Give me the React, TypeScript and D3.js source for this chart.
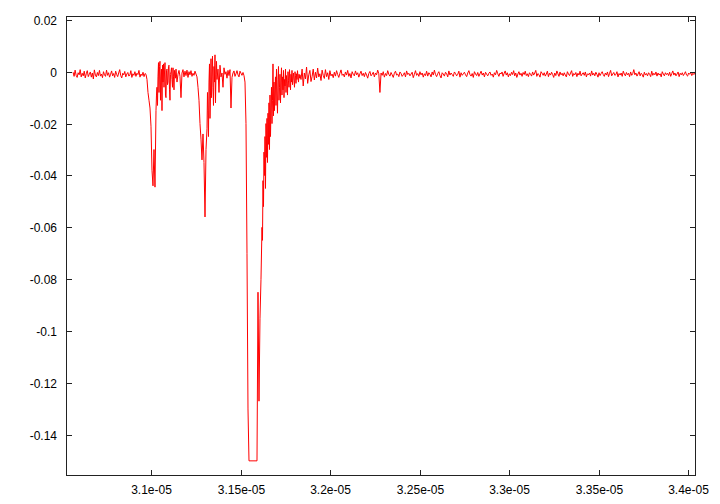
import React from "react";
import * as d3 from "d3";

// sample times are in units of 1e-5 s, sample values in units of 1e-4
const leadStart = 3.0562;
const leadEnd = 3.0964;
const leadValues = [
  -2, -18, 6, -14, -22, -4, -12, 8, -20, -6, -16, 2, -24, -8, 4, -19, -10, -1, -21, -5,
  -28, 7, -13, -20, -3, -15, 5, -17, -9, -23, 0, -12, -18, 6, -14, -4, -21, -10, 3, -16,
  -7, -22, 2, -11, -19, -5, 8, -15, -24, -6, -12, 1, -20, -9, -3, -17, -13, 4, -22, -8,
  -14, 0, -18, -6, -11, 5, -21, -9, -15, -2, -19, -7,
];

const firstDipStart = 3.09693;
const firstDipEnd = 3.10251;
const firstDipValues = [-10, -30, -80, -110, -140, -210, -380, -440, -300, -445, -150];

const firstRecoveryStart = 3.10279;
const firstRecoveryEnd = 3.11369;
const firstRecoveryValues = [
  -90, -60, -130, -20, 35, -80, 20, 40, -110, -20, 10, -150, 25, -40, 30, -60, -5, 35, -90, -100,
  5, 10, -50, -40, 20, 25, -70, -110, -10, 0, 15, -30, -60, 15, -20, -70, 5, -5, -25, 10,
];

const firstSettleStart = 3.11425;
const firstSettleEnd = 3.12542;
const firstSettleValues = [
  -40, -10, 5, -18, -100, -5, 8, -20, 2, -15, 6, -22, 0, -12, 4, -18, -6, -14, 2, -9, -20,
];

const secondDipStart = 3.12598;
const secondDipEnd = 3.13101;
const secondDipValues = [-60, -110, -200, -260, -340, -240, -350, -560, -300, -220];

const secondRecoveryStart = 3.13128;
const secondRecoveryEnd = 3.13659;
const secondRecoveryValues = [
  -80, -150, -250, -40, 30, -180, -90, 50, -100, -20, 60, -60, -130, 20, -40, 65, -120, -10, 40, -30,
];

const secondSettleStart = 3.13715;
const secondSettleEnd = 3.15279;
const secondSettleValues = [
  10, -80, 25, -20, -5, -60, 15, -10, 0, -25, 5, -15, 8, -140, -22, -5, 3, -18, -8, 4,
  -12, -20, 2, -6, -14, -3, -15, -40, -200,
];

const mainDipStart = 3.15335;
const mainDipEnd = 3.16173;
const mainDipValues = [
  -700, -1300, -1500, -1500, -1500, -1500, -1500, -1500, -1500, -1500, -1500, -850, -1270,
  -950, -800, -600,
];

const mainRecoveryStart = 3.16201;
const mainRecoveryEnd = 3.18296;
const mainRecoveryValues = [
  -650, -420, -520, -310, -400, -250, -450, -200, -330, -180, -350, -160, -280, -120, -300, -90, -250, -140, -60, -200,
  -110, 30, -170, -40, -150, -70, -20, -130, 10, -90, -160, -30, 20, -110, -60, -10, -120, -40, 15, -90,
  -20, -70, 5, -100, -30, -55, 10, -80, -15, -45, -90, 0, -35, -60, 8, -25, -70, -10, -40, 5,
  -50, -20, -5, -35, -60, 0, -15, -45, -8, -30, 4, -20, -40, -10, -25, -12,
];

const tailAStart = 3.18352;
const tailAEnd = 3.29469;
const tailAValues = [
  -30, 10, -55, -5, -28, 18, -45, -12, 5, -38, -18, 10, -32, -2, -24, 14, -20, -8, -34, 6,
  -14, -26, 8, -19, -4, -30, 4, -16, -9, -23,
  -2, -17, 4, -11, -22, -6, 7, -14, -9, -20, -1, -13, 5, -18, -7, -24, 0, -10, -16, 3,
  -12, -4, -21, -8, 2, -15, -6, -19, -3, -13, -25, -7, 1, -16, -10, -2, -20, -5, -12, 6,
  -8, -80, -5, -14, 0, -21, -7, -15, 4, -10, -17, -3, -12, -22, -6, 2, -13, -9, -19, -1,
  -7, -18, -12, -4, -20, 3, -11, -6, -16, -9, -2, -23, -10, 4, -14, -7, -18, 0, -12, -5,
  -21, -8, -15, 2, -17, -4, -10, -20, -1, -13, 6, -11, -19, -7, 0, -15, -24, -4, -9, -17,
  -2, -8, -20, 3, -13, -5, -11, -18, -1, -7, -16, -10, 2, -21, -4, -14, -8, -2, -12, -19,
  -5, 4, -11, -17, -7, -22, 0, -9, -15, -3, -18, -8, 2, -13, -5, -20, -2, -10, -16, -6,
  -1, -14, -9, -21, -4, -12, 5, -8, -18, -5,
];

const tailBStart = 3.29525;
const tailBEnd = 3.40419;
const tailBValues = [
  -9, -1, -18, -6, 3, -13, -4, -20, -8, -15, -2, -11, 4, -16, -5, -22, -9, 0, -13, -6,
  -18, -3, -11, 2, -15, -8, -19, -4, -10, -17, -1, -13, -5, 5, -18, -7, -11, -21, 0, -6,
  -14, -4, -17, -9, 2, -19, -6, -13, -2, -11, -22, -5, -15, 3, -8, -18, -1, -12, -6, -16,
  -4, -13, -20, 0, -9, -15, -5, 4, -18, -7, -12, -3, -19, -6, -13, 2, -16, -9, -4, -14,
  -1, -20, -8, -12, -5, -17, 3, -13, -6, -16, -2, -10, -21, -4, -15, -7, 0, -11, -18, -5,
  -13, -1, -19, -6, 5, -16, -9, -3, -14, -11, 0, -20, -7, -13, -5, -18, 2, -9, -16, -3,
  -12, -6, -19, -1, -14, -7, 8, -12, -5, -17, -9, 0, -16, -6, -11, -21, -2, -13, -7, -16,
  -4, -10, -19, 2, -14, -6, -12, -1, -17, -5, -13, -8, -20, 0, -9, -16, -4, -11, -6, -15,
  -2, -18, -7, 3, -13, -5, -16, -9, -1, -19, -6, -12, -4, -15, -8, 0, -13, -17, -5, -10,
  -3, -15, -6, -11, -1, -12,
];

const xTicks = [3.1e-5, 3.15e-5, 3.2e-5, 3.25e-5, 3.3e-5, 3.35e-5, 3.4e-5];
const xTickLabels = ["3.1e-05", "3.15e-05", "3.2e-05", "3.25e-05", "3.3e-05", "3.35e-05", "3.4e-05"];
const yTicks = [0.02, 0, -0.02, -0.04, -0.06, -0.08, -0.1, -0.12, -0.14];
const yTickLabels = ["0.02", "0", "-0.02", "-0.04", "-0.06", "-0.08", "-0.1", "-0.12", "-0.14"];

const segments = [
  { start: leadStart, end: leadEnd, values: leadValues },
  { start: firstDipStart, end: firstDipEnd, values: firstDipValues },
  { start: firstRecoveryStart, end: firstRecoveryEnd, values: firstRecoveryValues },
  { start: firstSettleStart, end: firstSettleEnd, values: firstSettleValues },
  { start: secondDipStart, end: secondDipEnd, values: secondDipValues },
  { start: secondRecoveryStart, end: secondRecoveryEnd, values: secondRecoveryValues },
  { start: secondSettleStart, end: secondSettleEnd, values: secondSettleValues },
  { start: mainDipStart, end: mainDipEnd, values: mainDipValues },
  { start: mainRecoveryStart, end: mainRecoveryEnd, values: mainRecoveryValues },
  { start: tailAStart, end: tailAEnd, values: tailAValues },
  { start: tailBStart, end: tailBEnd, values: tailBValues },
];

const width = 720;
const height = 504;
const left = 66;
const right = 696;
const top = 16;
const bottom = 476;
const tickLen = 6;

export default function App() {
  const x = d3.scaleLinear().domain([3.05224e-5, 3.40419e-5]).range([left, right]);
  const y = d3.scaleLinear().domain([-0.15584, 0.02147]).range([bottom, top]);

  // spread each segment's samples evenly between its start and end time
  const points: [number, number][] = segments.flatMap((s) =>
    s.values.map((v, i) => [
      (s.start + ((s.end - s.start) * i) / (s.values.length - 1)) * 1e-5,
      v * 1e-4,
    ] as [number, number])
  );

  const line = d3
    .line<[number, number]>()
    .x((d) => x(d[0]))
    .y((d) => y(d[1]));

  const axisColor = "#222";
  const font = { fontFamily: "'Liberation Sans', Arial, sans-serif", fontSize: 12 };

  return (
    <svg
      width={width}
      height={height}
      style={{ position: "absolute", left: 0, top: 0, background: "#fff" }}
    >
      <defs>
        <clipPath id="plot">
          <rect x={left} y={top} width={right - left} height={bottom - top} />
        </clipPath>
      </defs>

      <path
        d={line(points) ?? ""}
        fill="none"
        stroke="#ff0000"
        strokeWidth={1}
        strokeLinejoin="round"
        clipPath="url(#plot)"
      />

      {/* y ticks, mirrored on the right */}
      {yTicks.map((t, i) => {
        const py = Math.round(y(t)) + 0.5;
        return (
          <g key={"y" + i}>
            <line x1={left} x2={left + tickLen} y1={py} y2={py} stroke={axisColor} />
            <line x1={right - tickLen} x2={right} y1={py} y2={py} stroke={axisColor} />
            <text x={left - 9} y={py} dy="0.35em" textAnchor="end" style={font}>
              {yTickLabels[i]}
            </text>
          </g>
        );
      })}

      {/* x ticks, mirrored on the top */}
      {xTicks.map((t, i) => {
        const px = Math.round(x(t)) + 0.5;
        return (
          <g key={"x" + i}>
            <line x1={px} x2={px} y1={bottom} y2={bottom - tickLen} stroke={axisColor} />
            <line x1={px} x2={px} y1={top} y2={top + tickLen} stroke={axisColor} />
            <text x={px} y={bottom + 18} textAnchor="middle" style={font}>
              {xTickLabels[i]}
            </text>
          </g>
        );
      })}

      <rect
        x={left + 0.5}
        y={top + 0.5}
        width={right - left - 1}
        height={bottom - top - 1}
        fill="none"
        stroke={axisColor}
        strokeWidth={1}
      />
    </svg>
  );
}
